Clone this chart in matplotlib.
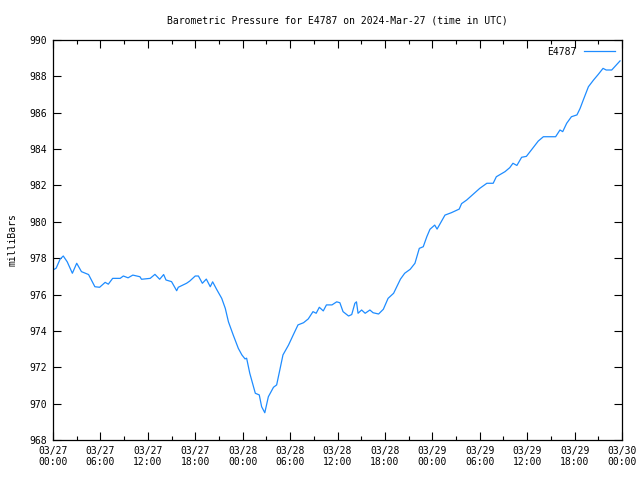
import numpy as np
import matplotlib
matplotlib.use("Agg")
import matplotlib.pyplot as plt
import matplotlib.dates as mdates
from datetime import datetime, timedelta

plt.rcParams["font.family"] = "DejaVu Sans Mono"

# hours since 2024-03-27 00:00 UTC, pressure in mb
hours = [0.0, 0.4, 0.9, 1.3, 1.8, 2.45, 3.0, 3.6, 4.5, 5.3, 5.9, 6.6, 7.0, 7.55,
         8.5, 8.9, 9.5, 10.1, 11.0, 11.2, 12.3, 12.9, 13.5, 14.0, 14.3, 15.0,
         15.65, 15.85, 16.9, 17.3, 18.0, 18.4, 18.9, 19.4, 19.9, 20.2, 20.7,
         21.35, 21.8, 22.2, 22.8, 23.45, 23.9, 24.3, 24.5, 24.9, 25.6, 26.1,
         26.4, 26.8, 27.25, 27.9, 28.3, 28.7, 29.1, 29.8, 30.4, 31.0, 31.7,
         32.3, 32.9, 33.3, 33.7, 34.2, 34.6, 35.3, 35.9, 36.3, 36.7, 37.4,
         37.8, 38.2, 38.4, 38.6, 39.05, 39.5, 40.1, 40.5, 41.2, 41.8, 42.4,
         43.1, 43.5, 43.97, 44.5, 45.2, 45.8, 46.35, 46.85, 47.3, 47.7, 48.3,
         48.6, 49.6, 50.4, 51.4, 51.7, 52.35, 54.0, 54.9, 55.7, 56.1, 57.2,
         57.8, 58.2, 58.7, 59.3, 59.9, 60.6, 61.4, 62.05, 63.6, 64.15, 64.5,
         65.0, 65.6, 66.3, 66.7, 67.1, 67.75, 68.4, 69.0, 69.6, 70.0, 70.7,
         71.75]
pressure = [977.35, 977.45, 977.95, 978.12, 977.8, 977.17, 977.72, 977.26, 977.1,
            976.43, 976.4, 976.67, 976.57, 976.89, 976.89, 977.02, 976.92,
            977.07, 976.98, 976.84, 976.89, 977.11, 976.84, 977.1, 976.8, 976.71,
            976.21, 976.4, 976.62, 976.74, 977.02, 977.02, 976.62, 976.85,
            976.43, 976.7, 976.29, 975.79, 975.24, 974.5, 973.78, 973.04, 972.68,
            972.46, 972.5, 971.67, 970.57, 970.48, 969.83, 969.5, 970.38,
            970.9, 971.03, 971.85, 972.68, 973.22, 973.78, 974.33, 974.45,
            974.66, 975.06, 974.97, 975.3, 975.1, 975.43, 975.43, 975.6, 975.55,
            975.06, 974.82, 974.9, 975.52, 975.6, 974.97, 975.15, 974.97, 975.15,
            975.0, 974.93, 975.19, 975.79, 976.07, 976.43, 976.85, 977.17,
            977.39, 977.72, 978.54, 978.63, 979.18, 979.59, 979.82, 979.6,
            980.37, 980.5, 980.7, 981.0, 981.2, 981.84, 982.12, 982.12, 982.48,
            982.76, 982.98, 983.22, 983.1, 983.55, 983.6, 983.99, 984.44,
            984.68, 984.68, 985.05, 984.96, 985.42, 985.78, 985.88, 986.24,
            986.7, 987.43, 987.8, 988.11, 988.44, 988.35, 988.35, 988.85]

start = datetime(2024, 3, 27)
times = [start + timedelta(hours=h) for h in hours]

fig = plt.figure(figsize=(6.4, 4.8), dpi=100)
ax = fig.add_axes([53/640, 40/480, 569/640, 400/480])

ax.plot(times, pressure, color="#1e8cff", lw=0.9, label="E4787")

ax.set_xlim(start, start + timedelta(hours=72))
ax.set_ylim(968, 990)
ax.set_yticks(np.arange(968, 991, 2))

ax.xaxis.set_major_locator(mdates.HourLocator(byhour=[0, 6, 12, 18]))
ax.xaxis.set_minor_locator(mdates.HourLocator(byhour=[3, 9, 15, 21]))
ax.xaxis.set_major_formatter(mdates.DateFormatter("%m/%d\n%H:%M"))

ax.tick_params(which="both", direction="in", top=True, right=True,
               labelsize=7, width=0.8, color="black")
ax.tick_params(which="major", length=6, pad=4)
ax.tick_params(which="minor", length=3)
for s in ax.spines.values():
    s.set_linewidth(0.9)

ax.set_title("Barometric Pressure for E4787 on 2024-Mar-27 (time in UTC)",
             fontsize=7, pad=12)
ax.set_ylabel("milliBars", fontsize=7, labelpad=9)

ax.legend(loc="upper right", frameon=False, markerfirst=False, fontsize=7,
          handlelength=3.2, borderaxespad=0.3)

fig.savefig("out.png", dpi=100)
